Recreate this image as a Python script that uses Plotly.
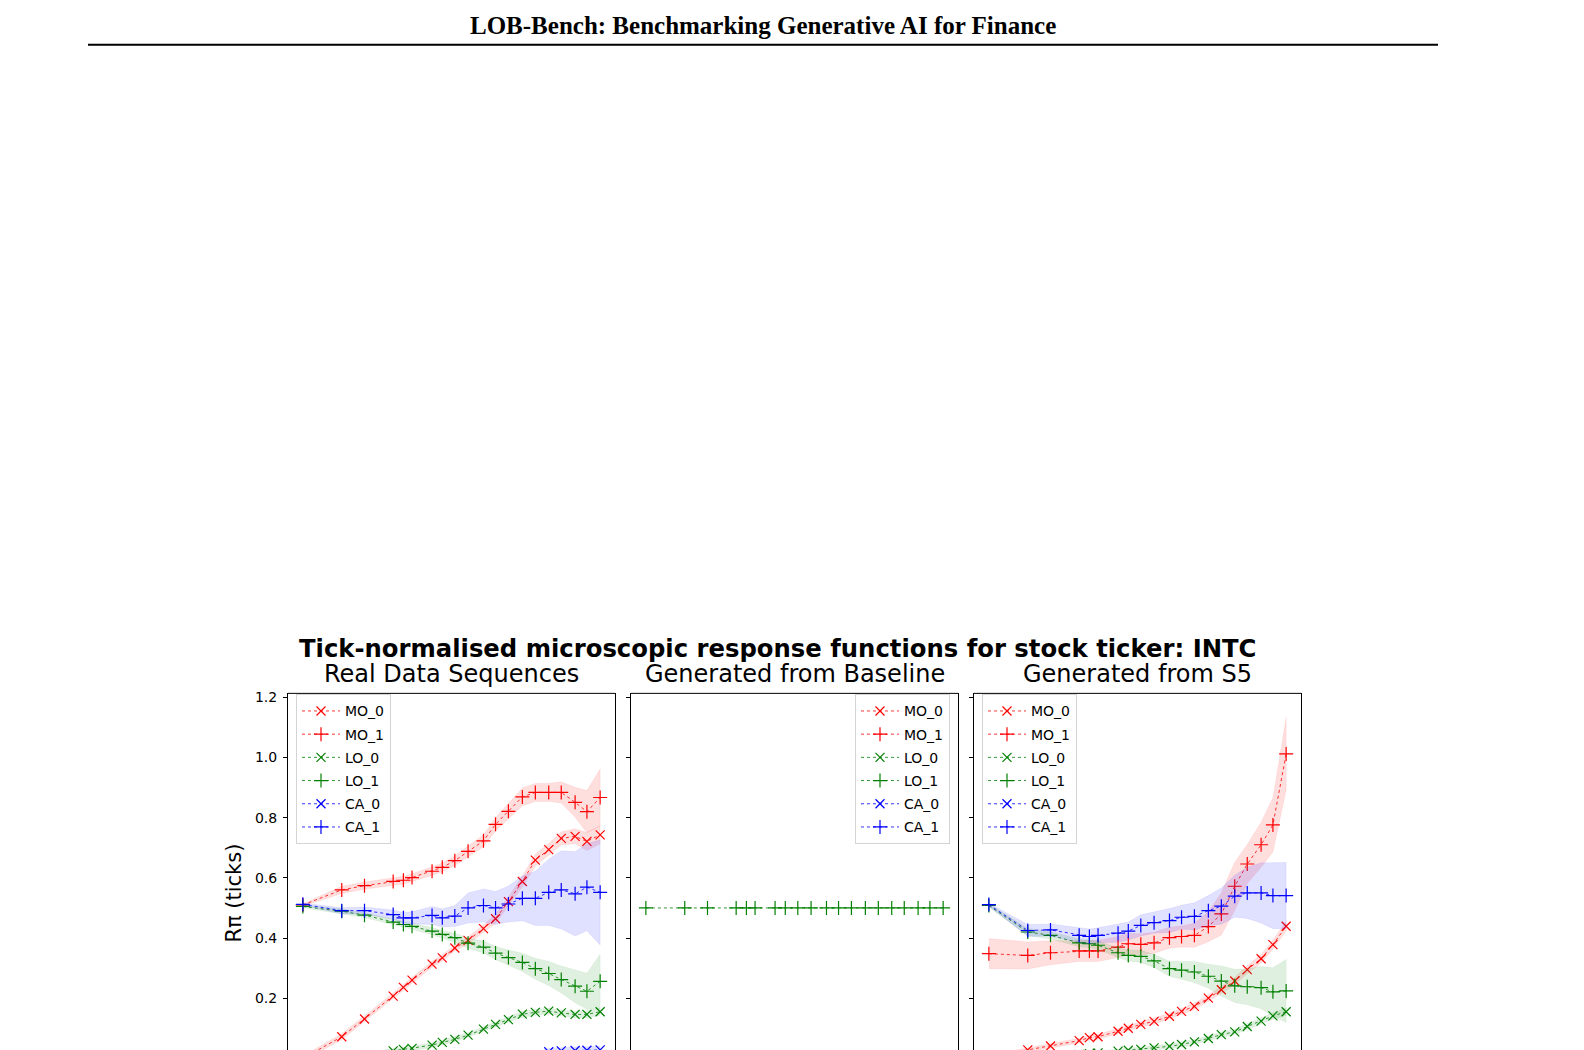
import plotly.graph_objects as go

W, H = 1584, 1050

# ---------------- data ----------------
lags = [1, 2, 3, 5, 6, 7, 10, 12, 15, 19, 25, 31, 39, 50, 63, 80, 100, 128, 158, 200]
series_names = ["MO_0", "MO_1", "LO_0", "LO_1", "CA_0", "CA_1"]
panel_titles = ["Real Data Sequences", "Generated from Baseline", "Generated from S5"]
y_tick_vals = [0.2, 0.4, 0.6, 0.8, 1.0, 1.2]
y_tick_text = ["0.2", "0.4", "0.6", "0.8", "1.0", "1.2"]

# Real data
real_mo0 = [0.0, 0.072, 0.131, 0.207, 0.236, 0.260, 0.313, 0.334, 0.367, 0.392,
            0.431, 0.464, 0.521, 0.588, 0.659, 0.694, 0.731, 0.738, 0.721, 0.743]
real_mo0_err = [0.008, 0.01, 0.01, 0.01, 0.01, 0.01, 0.01, 0.01, 0.01, 0.012,
                0.012, 0.015, 0.015, 0.018, 0.02, 0.02, 0.022, 0.025, 0.03, 0.03]
real_mo1 = [0.510, 0.560, 0.574, 0.588, 0.592, 0.601, 0.622, 0.635, 0.657, 0.688,
            0.723, 0.778, 0.821, 0.869, 0.884, 0.884, 0.884, 0.851, 0.820, 0.867]
real_mo1_err = [0.004, 0.012, 0.012, 0.013, 0.013, 0.013, 0.014, 0.015, 0.016, 0.018,
                0.02, 0.022, 0.025, 0.03, 0.03, 0.03, 0.035, 0.05, 0.07, 0.095]
real_lo0 = [-0.01, 0.004, 0.012, 0.025, 0.030, 0.033, 0.044, 0.053, 0.063, 0.077,
            0.097, 0.113, 0.129, 0.147, 0.153, 0.157, 0.151, 0.146, 0.146, 0.155]
real_lo0_err = [0.004, 0.006, 0.006, 0.007, 0.007, 0.007, 0.008, 0.008, 0.008, 0.008,
                0.008, 0.009, 0.009, 0.01, 0.01, 0.01, 0.01, 0.011, 0.012, 0.012]
real_lo1 = [0.505, 0.489, 0.476, 0.453, 0.445, 0.439, 0.423, 0.412, 0.401, 0.383,
            0.370, 0.350, 0.335, 0.319, 0.298, 0.282, 0.262, 0.240, 0.223, 0.256]
real_lo1_err = [0.004, 0.008, 0.008, 0.009, 0.01, 0.01, 0.012, 0.013, 0.015, 0.017,
                0.02, 0.022, 0.025, 0.03, 0.035, 0.04, 0.045, 0.055, 0.06, 0.09]
real_ca0 = [-0.09, -0.085, -0.08, -0.075, -0.07, -0.065, -0.055, -0.048, -0.04, -0.032,
            -0.022, -0.014, -0.006, 0.0, 0.01, 0.022, 0.025, 0.026, 0.027, 0.028]
real_ca0_err = [0.005, 0.006, 0.006, 0.007, 0.007, 0.007, 0.008, 0.008, 0.008, 0.009,
                0.009, 0.01, 0.01, 0.01, 0.01, 0.011, 0.011, 0.012, 0.012, 0.012]
real_ca1 = [0.512, 0.491, 0.491, 0.478, 0.467, 0.467, 0.475, 0.467, 0.473, 0.500,
            0.508, 0.500, 0.513, 0.532, 0.532, 0.552, 0.560, 0.547, 0.569, 0.552]
real_ca1_err = [0.004, 0.01, 0.012, 0.015, 0.018, 0.02, 0.03, 0.03, 0.035, 0.05,
                0.055, 0.055, 0.06, 0.075, 0.09, 0.11, 0.13, 0.14, 0.145, 0.175]

# Baseline (only LO_1 inside the visible range)
base_mo0 = [None] * 20
base_mo1 = [None] * 20
base_lo0 = [None] * 20
base_lo1 = [0.5] * 20
base_ca0 = [None] * 20
base_ca1 = [None] * 20
base_err = [0.0] * 20

# S5
s5_mo0 = [0.005, 0.028, 0.041, 0.059, 0.069, 0.072, 0.090, 0.100, 0.113, 0.123,
          0.140, 0.156, 0.173, 0.200, 0.228, 0.257, 0.295, 0.331, 0.378, 0.439]
s5_mo0_err = [0.006, 0.007, 0.008, 0.008, 0.008, 0.008, 0.009, 0.009, 0.009, 0.01,
              0.01, 0.01, 0.011, 0.011, 0.012, 0.012, 0.013, 0.014, 0.015, 0.016]
s5_mo1 = [0.348, 0.342, 0.351, 0.357, 0.357, 0.357, 0.370, 0.381, 0.379, 0.384,
          0.401, 0.405, 0.409, 0.438, 0.480, 0.572, 0.646, 0.710, 0.776, 1.012]
s5_mo1_err = [0.05, 0.045, 0.04, 0.035, 0.035, 0.035, 0.035, 0.035, 0.035, 0.035,
              0.035, 0.035, 0.04, 0.05, 0.07, 0.08, 0.065, 0.075, 0.09, 0.12]
s5_lo0 = [-0.005, 0.003, 0.008, 0.013, 0.016, 0.018, 0.024, 0.027, 0.030, 0.035,
          0.040, 0.046, 0.055, 0.066, 0.079, 0.088, 0.106, 0.124, 0.141, 0.155]
s5_lo0_err = [0.004, 0.005, 0.005, 0.006, 0.006, 0.006, 0.006, 0.007, 0.007, 0.007,
              0.007, 0.008, 0.008, 0.008, 0.009, 0.009, 0.01, 0.01, 0.011, 0.012]
s5_lo1 = [0.508, 0.420, 0.409, 0.384, 0.381, 0.376, 0.351, 0.342, 0.339, 0.324,
          0.298, 0.293, 0.287, 0.273, 0.257, 0.241, 0.238, 0.235, 0.221, 0.224]
s5_lo1_err = [0.005, 0.012, 0.012, 0.013, 0.013, 0.014, 0.016, 0.018, 0.02, 0.022,
              0.025, 0.03, 0.035, 0.04, 0.05, 0.055, 0.06, 0.07, 0.08, 0.105]
s5_ca0 = [-0.09, -0.085, -0.08, -0.075, -0.07, -0.068, -0.062, -0.058, -0.055, -0.05,
          -0.045, -0.04, -0.035, -0.03, -0.025, -0.02, -0.015, -0.012, -0.01, -0.01]
s5_ca0_err = [0.005] * 20
s5_ca1 = [0.511, 0.425, 0.427, 0.409, 0.405, 0.409, 0.416, 0.423, 0.442, 0.451,
          0.458, 0.469, 0.472, 0.491, 0.506, 0.539, 0.550, 0.550, 0.541, 0.541]
s5_ca1_err = [0.005, 0.02, 0.02, 0.025, 0.025, 0.025, 0.03, 0.03, 0.035, 0.035,
              0.04, 0.04, 0.045, 0.05, 0.06, 0.07, 0.085, 0.1, 0.11, 0.11]

panels = [
    [(real_mo0, real_mo0_err), (real_mo1, real_mo1_err), (real_lo0, real_lo0_err),
     (real_lo1, real_lo1_err), (real_ca0, real_ca0_err), (real_ca1, real_ca1_err)],
    [(base_mo0, base_err), (base_mo1, base_err), (base_lo0, base_err),
     (base_lo1, base_err), (base_ca0, base_err), (base_ca1, base_err)],
    [(s5_mo0, s5_mo0_err), (s5_mo1, s5_mo1_err), (s5_lo0, s5_lo0_err),
     (s5_lo1, s5_lo1_err), (s5_ca0, s5_ca0_err), (s5_ca1, s5_ca1_err)],
]

# ---------------- style ----------------
line_colors = {"MO": "#ff0000", "LO": "#008000", "CA": "#0000ff"}
band_colors = {"MO": "rgba(255,0,0,0.13)", "LO": "rgba(0,128,0,0.12)", "CA": "rgba(0,0,255,0.12)"}
symbols = {"0": "x-thin", "1": "cross-thin"}
FONT = "DejaVu Sans"


def px_x(x):
    return x / W


def px_y(y):
    return 1 - y / H


panel_px = [(288, 615), (631, 958), (974, 1301)]
top_px = 692
y_range = [0.0278, 1.2132]
x_range = [-0.115, 2.416]

fig = go.Figure()

legend_ids = ["legend", "legend2", "legend3"]
for p, series in enumerate(panels):
    xa = "x" if p == 0 else f"x{p + 1}"
    ya = "y" if p == 0 else f"y{p + 1}"
    for name, (vals, err) in zip(series_names, series):
        kind, idx = name.split("_")
        col = line_colors[kind]
        # band
        if any(e > 0 for e in err) and all(v is not None for v in vals):
            upper = [v + e for v, e in zip(vals, err)]
            lower = [v - e for v, e in zip(vals, err)]
            fig.add_trace(go.Scatter(
                x=lags + lags[::-1], y=upper + lower[::-1],
                fill="toself", fillcolor=band_colors[kind],
                line=dict(color=band_colors[kind], width=0.5),
                mode="lines", hoverinfo="skip", showlegend=False,
                xaxis=xa, yaxis=ya, legend=legend_ids[p], legendgroup=f"{p}{name}"))
        fig.add_trace(go.Scatter(
            x=lags, y=vals, name=name, mode="lines+markers",
            line=dict(color=col, width=0.8, dash="dot"),
            marker=dict(symbol=symbols[idx], size=9 if idx == "0" else 10,
                        line=dict(color=col, width=1.2), color=col),
            xaxis=xa, yaxis=ya, legend=legend_ids[p], legendgroup=f"{p}{name}",
            showlegend=True))

axis_common_x = dict(type="log", range=x_range, showgrid=False, zeroline=False,
                     showticklabels=False, ticks="", showline=False)
axis_common_y = dict(range=y_range, showgrid=False, zeroline=False, showline=True,
                     mirror=True, linecolor="#000000", linewidth=1,
                     ticks="outside", ticklen=4, tickwidth=1, tickcolor="#000000",
                     tickvals=y_tick_vals, ticktext=y_tick_text)

layout = dict(width=W, height=H, margin=dict(l=0, r=0, t=0, b=0),
              paper_bgcolor="white", plot_bgcolor="white",
              font=dict(family=FONT, color="#000000", size=14),
              showlegend=True)
for p, (x0, x1) in enumerate(panel_px):
    xk = "xaxis" if p == 0 else f"xaxis{p + 1}"
    yk = "yaxis" if p == 0 else f"yaxis{p + 1}"
    layout[xk] = dict(axis_common_x, domain=[px_x(x0), px_x(x1)],
                      anchor="y" if p == 0 else f"y{p + 1}")
    layout[yk] = dict(axis_common_y, domain=[0, px_y(top_px)],
                      anchor="x" if p == 0 else f"x{p + 1}",
                      showticklabels=(p == 0), ticklabelstandoff=3,
                      tickfont=dict(family=FONT, size=14, color="#000000"))

legend_pos = [(296, "left"), (950, "right"), (982, "left")]
for p, (lx, anc) in enumerate(legend_pos):
    layout[legend_ids[p]] = dict(
        x=px_x(lx), xanchor=anc, y=px_y(693), yanchor="top",
        bgcolor="rgba(255,255,255,0.85)", bordercolor="#d4d4d4", borderwidth=1,
        font=dict(family=FONT, size=14, color="#000000"),
        tracegroupgap=2, traceorder="grouped", itemwidth=38)

fig.update_layout(**layout)

shapes = []
# header rule
shapes.append(dict(type="line", xref="paper", yref="paper",
                   x0=px_x(88), x1=px_x(1438), y0=px_y(41), y1=px_y(41),
                   line=dict(color="#000000", width=2)))
# top spines
for p, (x0, x1) in enumerate(panel_px):
    shapes.append(dict(type="line", xref="paper", yref="paper",
                       x0=px_x(x0), x1=px_x(x1), y0=px_y(top_px), y1=px_y(top_px),
                       line=dict(color="#000000", width=1)))
fig.update_layout(shapes=shapes)

annotations = []
annotations.append(dict(text="<b>LOB-Bench: Benchmarking Generative AI for Finance</b>",
                        x=px_x(763), y=px_y(22), xref="paper", yref="paper",
                        xanchor="center", yanchor="middle", showarrow=False,
                        font=dict(family="Liberation Serif", size=25, color="#000000")))
annotations.append(dict(text="<b>Tick-normalised microscopic response functions for stock ticker: INTC</b>",
                        x=px_x(777), y=px_y(647), xref="paper", yref="paper",
                        xanchor="center", yanchor="middle", showarrow=False,
                        font=dict(family=FONT, size=24.3, color="#000000")))
for p, (x0, x1) in enumerate(panel_px):
    annotations.append(dict(text=panel_titles[p], x=px_x((x0 + x1) / 2), y=px_y(673),
                            xref="paper", yref="paper", xanchor="center", yanchor="middle",
                            showarrow=False, font=dict(family=FONT, size=24, color="#000000")))
annotations.append(dict(text="Rπ (ticks)", x=px_x(234), y=px_y(893), xref="paper", yref="paper",
                        xanchor="center", yanchor="middle", textangle=-90, showarrow=False,
                        font=dict(family=FONT, size=21, color="#000000")))
fig.update_layout(annotations=annotations)

fig.write_html("out.html", config={"displayModeBar": False},
               post_script="document.body.style.margin='0';document.body.style.overflow='hidden';")
